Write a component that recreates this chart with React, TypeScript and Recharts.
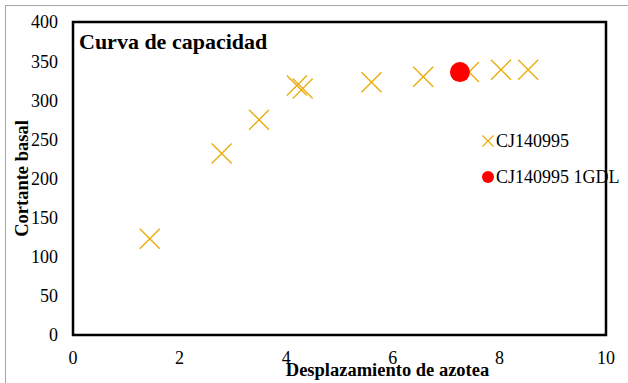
import { ScatterChart, Scatter, XAxis, YAxis, ReferenceArea, Legend } from "recharts";

const desplazamiento = [1.44, 2.79, 3.49, 4.2, 4.31, 5.6, 6.57, 7.43, 8.03, 8.54];
const cortante = [123, 232, 275, 319, 315, 323, 330, 336, 339, 339];
const gdlDesplazamiento = [7.26];
const gdlCortante = [336];
const xTicks = [0, 2, 4, 6, 8, 10];
const yTicks = [0, 50, 100, 150, 200, 250, 300, 350, 400];

const GOLD = "#E9AD0C";
const RED = "#FF0000";
const FONT = "Liberation Serif, Times New Roman, serif";

const serie = desplazamiento.map((x, i) => ({ x, y: cortante[i] }));
const serieGdl = gdlDesplazamiento.map((x, i) => ({ x, y: gdlCortante[i] }));

// marcador en forma de X
const Cruz = (props: any) => {
  const { cx, cy } = props;
  const s = 10;
  return (
    <g stroke={GOLD} strokeWidth={1.4}>
      <line x1={cx - s} y1={cy - s} x2={cx + s} y2={cy + s} />
      <line x1={cx - s} y1={cy + s} x2={cx + s} y2={cy - s} />
    </g>
  );
};

const Punto = (props: any) => <circle cx={props.cx} cy={props.cy} r={10} fill={RED} />;

const TickX = (props: any) => (
  <text x={props.x} y={props.y} dy="0.71em" textAnchor="middle" fontFamily={FONT} fontSize={18} fill="#000">
    {props.payload.value}
  </text>
);

const TickY = (props: any) => (
  <text x={props.x} y={props.y} dy="0.355em" textAnchor="end" fontFamily={FONT} fontSize={18} fill="#000">
    {props.payload.value}
  </text>
);

const Leyenda = () => (
  <div style={{ fontFamily: FONT, fontSize: 18, color: "#000" }}>
    <div style={{ display: "flex", alignItems: "center", height: 20 }}>
      <svg width={14} height={14} style={{ marginRight: 1 }}>
        <line x1={1.5} y1={1.5} x2={12.5} y2={12.5} stroke={GOLD} strokeWidth={1.3} />
        <line x1={1.5} y1={12.5} x2={12.5} y2={1.5} stroke={GOLD} strokeWidth={1.3} />
      </svg>
      <span>CJ140995</span>
    </div>
    <div style={{ display: "flex", alignItems: "center", height: 20, marginTop: 16 }}>
      <svg width={14} height={14} style={{ marginRight: 1 }}>
        <circle cx={7} cy={7} r={6} fill={RED} />
      </svg>
      <span>CJ140995 1GDL</span>
    </div>
  </div>
);

export default function App() {
  return (
    <div style={{ position: "absolute", left: 0, top: 0, width: 628, height: 383, overflow: "hidden", background: "#fff" }}>
      <div style={{ position: "absolute", left: 5, top: 5, width: 700, height: 500, border: "1px solid #a6a6a6" }} />
      <div style={{ position: "absolute", left: 0, top: 0 }}>
        <ScatterChart width={628} height={383} margin={{ top: 22, right: 22, bottom: 0, left: 0 }}>
          <XAxis
            type="number"
            dataKey="x"
            domain={[0, 10]}
            ticks={xTicks}
            height={48}
            axisLine={false}
            tickLine={false}
            tickSize={0}
            tickMargin={16}
            tick={TickX}
            label={{
              value: "Desplazamiento de azotea",
              position: "insideBottom",
              offset: 7,
              dx: 48,
              style: { fontFamily: FONT, fontSize: 18.5, fontWeight: "bold", fill: "#000" },
            }}
          />
          <YAxis
            type="number"
            dataKey="y"
            domain={[0, 400]}
            ticks={yTicks}
            width={73}
            axisLine={false}
            tickLine={false}
            tickSize={0}
            tickMargin={15}
            tick={TickY}
            label={{
              value: "Cortante basal",
              angle: -90,
              position: "insideLeft",
              offset: 21,
              style: { textAnchor: "middle", fontFamily: FONT, fontSize: 18.5, fontWeight: "bold", fill: "#000" },
            }}
          />
          <ReferenceArea x1={0} x2={10} y1={0} y2={400} fill="none" stroke="#000" strokeWidth={2.5} fillOpacity={0} />
          <Scatter name="CJ140995" data={serie} shape={Cruz} isAnimationActive={false} />
          <Scatter name="CJ140995 1GDL" data={serieGdl} shape={Punto} isAnimationActive={false} />
          <Legend
            layout="horizontal"
            verticalAlign="middle"
            align="center"
            content={Leyenda}
            wrapperStyle={{ left: 481, top: 131, width: "auto" }}
          />
        </ScatterChart>
      </div>
      <div
        style={{
          position: "absolute",
          left: 79,
          top: 31,
          fontFamily: FONT,
          fontSize: 22,
          lineHeight: "22px",
          fontWeight: "bold",
          color: "#000",
          whiteSpace: "nowrap",
        }}
      >
        Curva de capacidad
      </div>
    </div>
  );
}
